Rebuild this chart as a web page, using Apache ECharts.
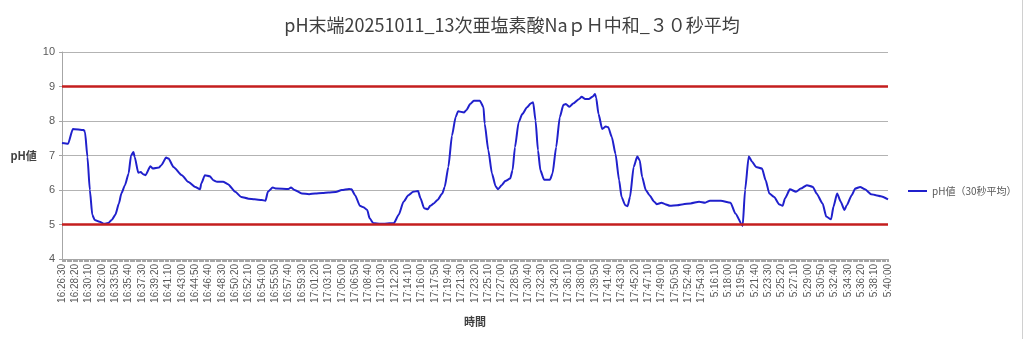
<!DOCTYPE html>
<html>
<head>
<meta charset="utf-8">
<script src="https://cdn.jsdelivr.net/npm/echarts@6/dist/echarts.min.js"></script>
<style>
html,body{margin:0;padding:0;background:#fff;}
#c{width:1024px;height:339px;}
</style>
</head>
<body>
<div id="c"></div>
<script>
// ---- data ----
const titleText = 'pH末端20251011_13次亜塩素酸NaｐＨ中和_３０秒平均';
const seriesName = 'pH値（30秒平均）';
const tickLabels = [
 '16:26:30','16:28:20','16:30:10','16:32:00','16:33:50','16:35:40','16:37:30','16:39:20','16:41:10','16:43:00',
 '16:44:50','16:46:40','16:48:30','16:50:20','16:52:10','16:54:00','16:55:50','16:57:40','16:59:30','17:01:20',
 '17:03:10','17:05:00','17:06:50','17:08:40','17:10:30','17:12:20','17:14:10','17:16:00','17:17:50','17:19:40',
 '17:21:30','17:23:20','17:25:10','17:27:00','17:28:50','17:30:40','17:32:30','17:34:20','17:36:10','17:38:00',
 '17:39:50','17:41:40','17:43:30','17:45:20','17:47:10','17:49:00','17:50:50','17:52:40','17:54:30','5:16:10',
 '5:18:00','5:19:50','5:21:40','5:23:30','5:25:20','5:27:10','5:29:00','5:30:50','5:32:40','5:34:30',
 '5:36:20','5:38:10','5:40:00'
];
const stepsPerTick = 11;   // one sample every 10 s, a label every 110 s
const limitValues = [9, 5];
const yTicks = {min: 4, max: 10, interval: 1};

// pH curve: sample index on the time axis, value
const phIndex = [
 0,5,9,18,19,21,23,25,27,31,35,38,41,44,47,49,52,55,57,59,60,63,65,67,69,73,75,80,82,86,88,92,99,104,110,114,115,118,122,125,128,133,137,143,148,154,159,165,168,170,174,177,187,189,192,198,204,209,215,220,226,231,237,239,242,246,249,252,254,257,
 263,274,278,282,286,290,294,296,299,302,304,307,310,314,316,319,322,325,327,332,334,337,340,345,348,349,352,355,358,360,363,366,370,372,374,377,380,384,387,389,391,393,395,398,403,405,408,411,414,416,419,422,427,429,432,435,438,440,441,443,446,449,451,454,457,460,462,465,467,469,472,475,477,479,482,485,489,491,495,498,502,508,513,519,
 526,531,535,544,552,556,562,564,567,570,573,578,581,584,588,592,595,597,601,606,610,615,620,623,628,631,635,637,640,643,646,648,652,655,659,663,668,672,676,682
];
const phValue = [
 7.36,7.34,7.77,7.74,7.68,6.96,6.0,5.28,5.13,5.08,5.02,5.04,5.13,5.28,5.61,5.9,6.14,6.48,7.0,7.1,6.96,6.5,6.52,6.46,6.43,6.69,6.62,6.65,6.72,6.94,6.91,6.67,6.43,6.24,6.09,6.02,6.19,6.43,6.4,6.28,6.24,6.24,6.17,5.95,5.8,5.75,5.73,5.71,5.69,5.95,6.07,6.04,6.03,6.07,6.0,5.9,5.88,5.9,5.91,5.93,5.94,6.0,6.03,6.02,5.85,5.54,5.5,5.42,5.18,5.04,
 5.02,5.04,5.28,5.66,5.85,5.95,5.97,5.76,5.47,5.44,5.54,5.61,5.71,5.9,6.09,6.67,7.58,8.11,8.28,8.25,8.32,8.49,8.59,8.59,8.4,7.92,7.15,6.48,6.11,6.02,6.14,6.26,6.33,6.57,7.24,7.96,8.2,8.4,8.51,8.54,8.01,7.15,6.57,6.3,6.3,6.48,7.24,8.11,8.47,8.49,8.41,8.51,8.64,8.7,8.64,8.64,8.7,8.78,8.68,8.2,7.77,7.84,7.82,7.53,7.05,6.28,5.8,5.56,5.53,5.8,6.67,6.97,6.86,6.38,6.0,5.85,5.66,5.59,5.63,5.59,5.54,5.56,5.59,5.61,
 5.66,5.63,5.69,5.69,5.63,5.32,4.96,6.0,6.97,6.81,6.67,6.62,6.28,5.9,5.8,5.59,5.54,5.76,6.02,5.95,6.04,6.14,6.09,5.9,5.61,5.23,5.15,5.52,5.9,5.66,5.42,5.56,5.85,6.04,6.09,6.02,5.88,5.85,5.82,5.73
];

// ---- build category list (10 s samples between the tick labels) ----
function pad(n){ return (n < 10 ? '0' : '') + n; }
function addSec(t, s){
  const p = t.split(':').map(Number);
  let tot = p[0]*3600 + p[1]*60 + p[2] + s;
  const h = Math.floor(tot/3600) % 24, m = Math.floor(tot/60) % 60, sec = tot % 60;
  return h + ':' + pad(m) + ':' + pad(sec);
}
const categories = [];
tickLabels.forEach((t, i) => {
  categories.push(t);
  if (i < tickLabels.length - 1) {
    for (let k = 1; k < stepsPerTick; k++) categories.push(addSec(t, k*10));
  }
});
const seriesData = phIndex.map((ix, k) => [ix, phValue[k]]);

const chart = echarts.init(document.getElementById('c'), null, {renderer: 'canvas'});
const labelColor = '#595959';
const lineColor = '#2020CC';
chart.setOption({
  backgroundColor: '#ffffff',
  animation: false,
  title: {
    text: titleText, left: 'center', top: 11,
    textStyle: {fontFamily: 'Noto Sans CJK JP', fontSize: 18, fontWeight: 'normal', color: '#404040'}
  },
  legend: {
    left: 903, top: 181, itemWidth: 19, itemHeight: 2, itemGap: 4,
    icon: 'rect',
    data: [seriesName],
    itemStyle: {color: lineColor},
    textStyle: {fontFamily: 'Noto Sans CJK JP', fontSize: 10, color: labelColor}
  },
  grid: {left: 62, right: 136, top: 52, bottom: 80, containLabel: false},
  xAxis: {
    type: 'category', data: categories, boundaryGap: false,
    name: '時間', nameLocation: 'middle', nameGap: 57,
    nameTextStyle: {fontFamily: 'Noto Sans CJK JP', fontSize: 11, fontWeight: 'bold', color: '#404040'},
    axisLine: {lineStyle: {color: '#A6A6A6', width: 1}},
    axisTick: {interval: 0, length: 3, lineStyle: {color: '#A6A6A6'}},
    axisLabel: {interval: stepsPerTick - 1, rotate: 90, margin: 5, fontFamily: 'Liberation Sans', fontSize: 10, color: labelColor},
    splitLine: {show: false}
  },
  yAxis: {
    type: 'value', min: yTicks.min, max: yTicks.max, interval: yTicks.interval,
    name: 'pH値', nameLocation: 'middle', nameRotate: 0, nameGap: 24,
    nameTextStyle: {fontFamily: 'Noto Sans CJK JP', fontSize: 11, fontWeight: 'bold', color: '#404040', align: 'right'},
    axisLine: {show: true, lineStyle: {color: '#A6A6A6'}},
    axisTick: {show: true, length: 3, lineStyle: {color: '#A6A6A6'}},
    axisLabel: {margin: 7, fontFamily: 'Liberation Sans', fontSize: 11, color: labelColor},
    splitLine: {show: true, lineStyle: {color: '#B3B3B3', width: 1}}
  },
  series: [{
    name: seriesName, type: 'line', data: seriesData,
    symbol: 'none', smooth: 0.2, smoothMonotone: 'x',
    lineStyle: {color: lineColor, width: 2},
    itemStyle: {color: lineColor},
    markLine: {
      silent: true, symbol: 'none', label: {show: false},
      lineStyle: {color: '#C41E1E', width: 2.5, type: 'solid'},
      data: limitValues.map(v => ({yAxis: v}))
    },
    z: 3
  }],
  graphic: [{
    type: 'line', shape: {x1: 1022.5, y1: 0, x2: 1022.5, y2: 339},
    style: {stroke: '#D0D0D0', lineWidth: 1}, silent: true
  }]
});
</script>
</body>
</html>
